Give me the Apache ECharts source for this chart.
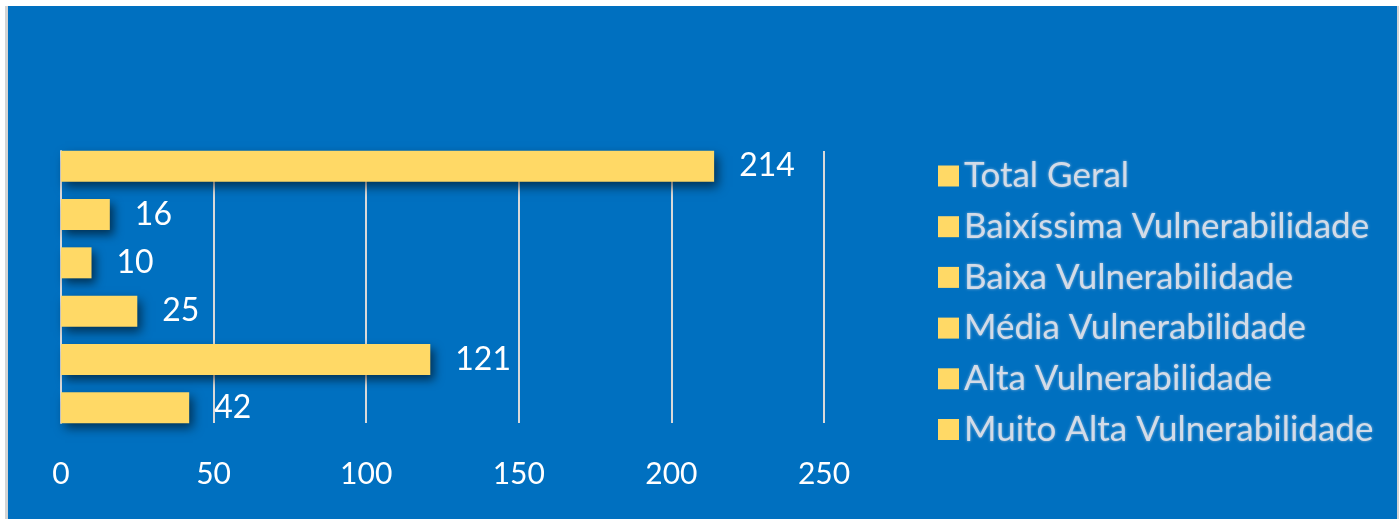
<!DOCTYPE html>
<html>
<head>
<meta charset="utf-8">
<script src="https://cdn.jsdelivr.net/npm/echarts@6/dist/echarts.min.js"></script>
<style>
html, body { margin: 0; padding: 0; background: #ffffff; }
#chart {
  position: absolute;
  left: 8px;
  top: 6px;
  width: 1389px;
  height: 513px;
  background: #0070c0;
  box-shadow: -3px 0 0 #d4d4d4, 2px 0 0 #d4d4d4;
}
</style>
</head>
<body>
<div id="chart"></div>
<script>
// categories, top to bottom
var categories = [
  'Total Geral',
  'Baixíssima Vulnerabilidade',
  'Baixa Vulnerabilidade',
  'Média Vulnerabilidade',
  'Alta Vulnerabilidade',
  'Muito Alta Vulnerabilidade'
];
var values = [214, 16, 10, 25, 121, 42];
var xTicks = [0, 50, 100, 150, 200, 250];

var barColor = '#ffd966';
var font = 'Lato';

var chart = echarts.init(document.getElementById('chart'));

// one series per category so the legend lists each one
var series = categories.map(function (name, i) {
  return {
    name: name,
    type: 'bar',
    xAxisIndex: 0,
    yAxisIndex: 0,
    barWidth: 31,
    barGap: '-100%',
    itemStyle: {
      color: barColor,
      shadowColor: 'rgba(0, 0, 0, 0.55)',
      shadowBlur: 10,
      shadowOffsetX: 4,
      shadowOffsetY: 5
    },
    label: {
      show: true,
      position: 'right',
      distance: 25,
      color: '#ffffff',
      fontFamily: font,
      fontSize: 32
    },
    data: categories.map(function (c, j) { return j === i ? values[i] : '-'; })
  };
});

chart.setOption({
  animation: false,
  backgroundColor: '#0070c0',
  color: [barColor],
  legend: {
    orient: 'vertical',
    left: 925,
    top: 145,
    icon: 'rect',
    itemWidth: 21,
    itemHeight: 21,
    itemGap: 10.7,
    data: categories,
    textStyle: {
      color: '#d3dbe7',
      fontFamily: font,
      fontSize: 35,
      lineHeight: 40,
      textShadowColor: 'rgba(225, 232, 242, 0.6)',
      textShadowBlur: 3,
      textShadowOffsetX: 0,
      textShadowOffsetY: 0
    }
  },
  grid: [
    { left: 53, width: 763, top: 136, height: 290 },
    { left: 53, width: 763, top: 145, height: 272 }
  ],
  xAxis: [
    {
      gridIndex: 0,
      type: 'value',
      min: 0,
      max: 250,
      interval: 50,
      axisLine: { show: false },
      axisTick: { show: false },
      axisLabel: { show: false },
      splitLine: { show: false }
    },
    {
      gridIndex: 1,
      type: 'value',
      min: xTicks[0],
      max: xTicks[xTicks.length - 1],
      interval: 50,
      axisLine: { show: false },
      axisTick: { show: false },
      axisLabel: {
        color: '#ffffff',
        fontFamily: font,
        fontSize: 30,
        margin: 36
      },
      splitLine: { lineStyle: { color: '#d9d9d9', width: 2 } }
    }
  ],
  yAxis: [
    {
      gridIndex: 0,
      type: 'category',
      inverse: true,
      data: categories,
      axisLine: { show: false },
      axisTick: { show: false },
      axisLabel: { show: false }
    },
    {
      gridIndex: 1,
      type: 'category',
      inverse: true,
      data: categories,
      axisLine: { show: true, lineStyle: { color: '#d9d9d9', width: 2 } },
      axisTick: { show: false },
      axisLabel: { show: false }
    }
  ],
  series: series
});
</script>
</body>
</html>
